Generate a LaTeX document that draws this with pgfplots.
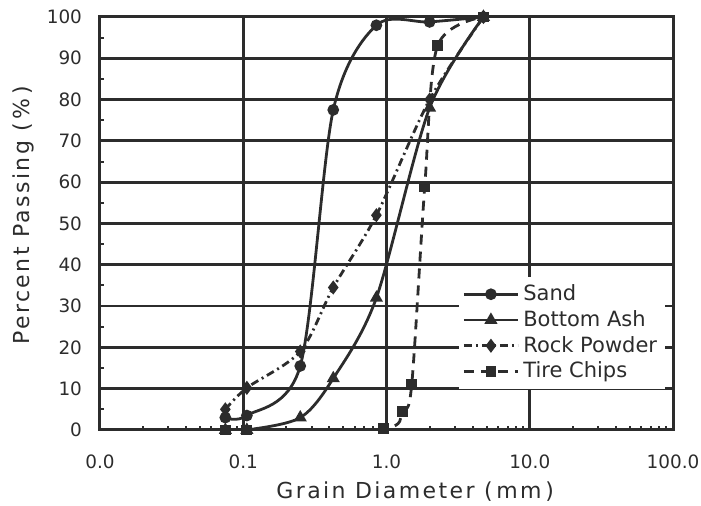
\documentclass[border=0pt]{standalone}
\usepackage{pgfplots}
\pgfplotsset{compat=1.18}
\usepackage{fontspec}
\setmainfont{DejaVu Sans}
\newfontfamily\labelfont[LetterSpace=11]{DejaVu Sans}
\definecolor{ink}{HTML}{2C2C2C}

\begin{document}
\begin{tikzpicture}
\useasboundingbox (-50pt,-38pt) rectangle (300.5pt,215pt);
\begin{axis}[
  at={(0pt,0pt)}, anchor=south west,
  scale only axis,
  width=286.5pt, height=206.5pt,
  xmode=log,
  xmin=0.01, xmax=100,
  ymin=0, ymax=100,
  xtick={0.01,0.1,1,10,100},
  xticklabels={0.0,0.1,1.0,10.0,100.0},
  ytick={0,10,...,100},
  minor ytick={5,15,...,95},
  tick pos=left,
  tick align=inside,
  major tick length=0pt,
  minor tick length=2.2pt,
  every minor tick/.style={line width=1pt, ink},
  grid=major,
  grid style={line width=1.4pt, ink},
  axis line style={line width=1.5pt, ink},
  /pgf/number format/assume math mode=true,
  ticklabel style={font=\fontsize{9.2}{11}\selectfont, ink},
  xticklabel style={yshift=-9pt},
  yticklabel style={xshift=-5.5pt},
  xlabel={Grain Diameter (\,mm\,)},
  ylabel={Percent Passing (\,\%\,)},
  label style={font=\labelfont\fontsize{11}{13}\selectfont, ink},
  xlabel style={at={(axis description cs:0.55,-0.148)}, anchor=center},
  ylabel style={at={(axis description cs:-0.133,0.52)}, anchor=center},
  legend style={at={(rel axis cs:0.625,0.372)}, anchor=north west,
    draw=none, fill=white, font=\fontsize{10.5}{12}\selectfont,
    text=ink, row sep=-0.6pt, inner sep=2pt},
  legend cell align={left},
  legend image code/.code={%
    \draw[mark repeat=2,mark phase=2] plot coordinates {(0pt,0pt) (13.5pt,0pt) (27pt,0pt)};},
  every axis plot/.append style={line width=1.4pt, ink, smooth, tension=0.5},
]

% Sand
\addplot[mark=*, mark size=2.2pt, mark options={solid, fill=ink}] coordinates {
  (0.075,3) (0.106,3.5) (0.25,15.5) (0.425,77.5) (0.85,98) (2.0,98.8) (4.75,100)
};
% Bottom Ash
\addplot[mark=triangle*, mark size=2.4pt, mark options={solid, fill=ink}] coordinates {
  (0.075,0) (0.106,0) (0.25,3) (0.425,12.5) (0.85,32) (2.0,78) (4.75,100)
};
% Rock Powder
\addplot[dash pattern=on 4pt off 2pt on 1pt off 2pt, mark=diamond*, mark size=2.4pt, mark options={solid, fill=ink}] coordinates {
  (0.075,5) (0.106,10.2) (0.25,19) (0.425,34.5) (0.85,52) (2.0,80) (4.75,100)
};
% Tire Chips
\addplot[dash pattern=on 5pt off 3.5pt, mark=square*, mark size=2pt, mark options={solid, fill=ink}] coordinates {
  (0.075,0) (0.106,0) (0.95,0.3) (1.3,4.5) (1.5,11) (1.85,59) (2.27,93) (4.75,100)
};

\legend{Sand, Bottom Ash, Rock Powder, Tire Chips}
\end{axis}
\end{tikzpicture}
\end{document}
